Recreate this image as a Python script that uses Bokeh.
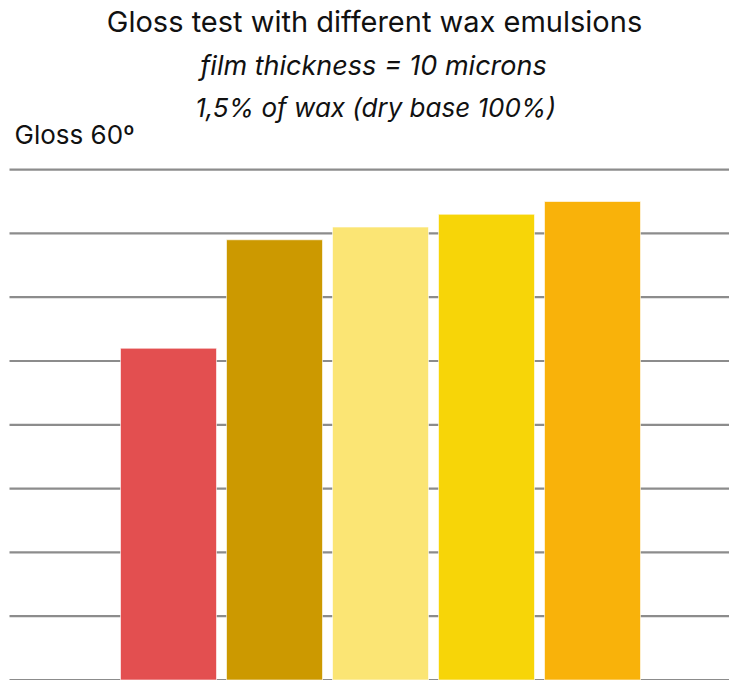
from bokeh.plotting import figure
from bokeh.models import Range1d, Label
from bokeh.embed import file_html
from bokeh.resources import INLINE

categories = ["Wax 1", "Wax 2", "Wax 3", "Wax 4", "Wax 5"]
gloss_values = [52, 69, 71, 73, 75]
bar_colors = ["#E34F50", "#CC9900", "#FBE574", "#F7D508", "#F9B20A"]
grid_ticks = [0, 10, 20, 30, 40, 50, 60, 70, 80]

title_text = "Gloss test with different wax emulsions"
subtitle1 = "film thickness = 10 microns"
subtitle2 = "1,5% of wax (dry base 100%)"
y_label = "Gloss 60º"

W, H = 729, 680
px_per_cat = 106.0
px_per_unit = 6.38
cat0_px = 168.0        # centre of first bar from figure left
base_px = 679.5        # baseline from figure top
grid_left_px = 9.0

x_start = 1 - cat0_px / px_per_cat
x_end = x_start + W / px_per_cat
y_end = base_px / px_per_unit
y_start = -(H - base_px) / px_per_unit

p = figure(width=W, height=H, output_backend="svg", toolbar_location=None,
           x_range=Range1d(x_start, x_end), y_range=Range1d(y_start, y_end),
           min_border=0, min_border_left=0, min_border_right=0,
           min_border_top=0, min_border_bottom=0)
p.outline_line_color = None
p.background_fill_color = "white"
p.border_fill_color = "white"
p.xaxis.visible = False
p.yaxis.visible = False
p.xgrid.visible = False
p.ygrid.visible = False

# horizontal gridlines starting a little right of the left edge
gx0 = x_start + grid_left_px / px_per_cat
p.segment(x0=[gx0] * len(grid_ticks), x1=[x_end] * len(grid_ticks),
          y0=grid_ticks, y1=grid_ticks, line_color="#8c8c8c", line_width=2.2)

xs = [i + 1 for i in range(len(categories))]
p.vbar(x=xs, top=gloss_values, bottom=0, width=96 / px_per_cat,
       fill_color=bar_colors, line_color="white", line_alpha=0.6, line_width=1)

def px_to_x(px):
    return x_start + px / px_per_cat

def py_to_y(py):
    return (base_px - py) / px_per_unit

font = "Inter"
p.add_layout(Label(x=px_to_x(374), y=py_to_y(21), text=title_text,
                   text_align="center", text_baseline="alphabetic",
                   text_font=font, text_font_size="29px", text_color="#111111"))
p.add_layout(Label(x=px_to_x(373), y=py_to_y(65), text=subtitle1,
                   text_align="center", text_baseline="alphabetic", text_font_style="italic",
                   text_font=font, text_font_size="27px", text_color="#111111"))
p.add_layout(Label(x=px_to_x(375), y=py_to_y(107), text=subtitle2,
                   text_align="center", text_baseline="alphabetic", text_font_style="italic",
                   text_font=font, text_font_size="26px", text_color="#111111"))
p.add_layout(Label(x=px_to_x(14), y=py_to_y(134), text=y_label,
                   text_align="left", text_baseline="alphabetic",
                   text_font=font, text_font_size="26px", text_color="#111111"))

open("out.html", "w").write(file_html(p, INLINE))
